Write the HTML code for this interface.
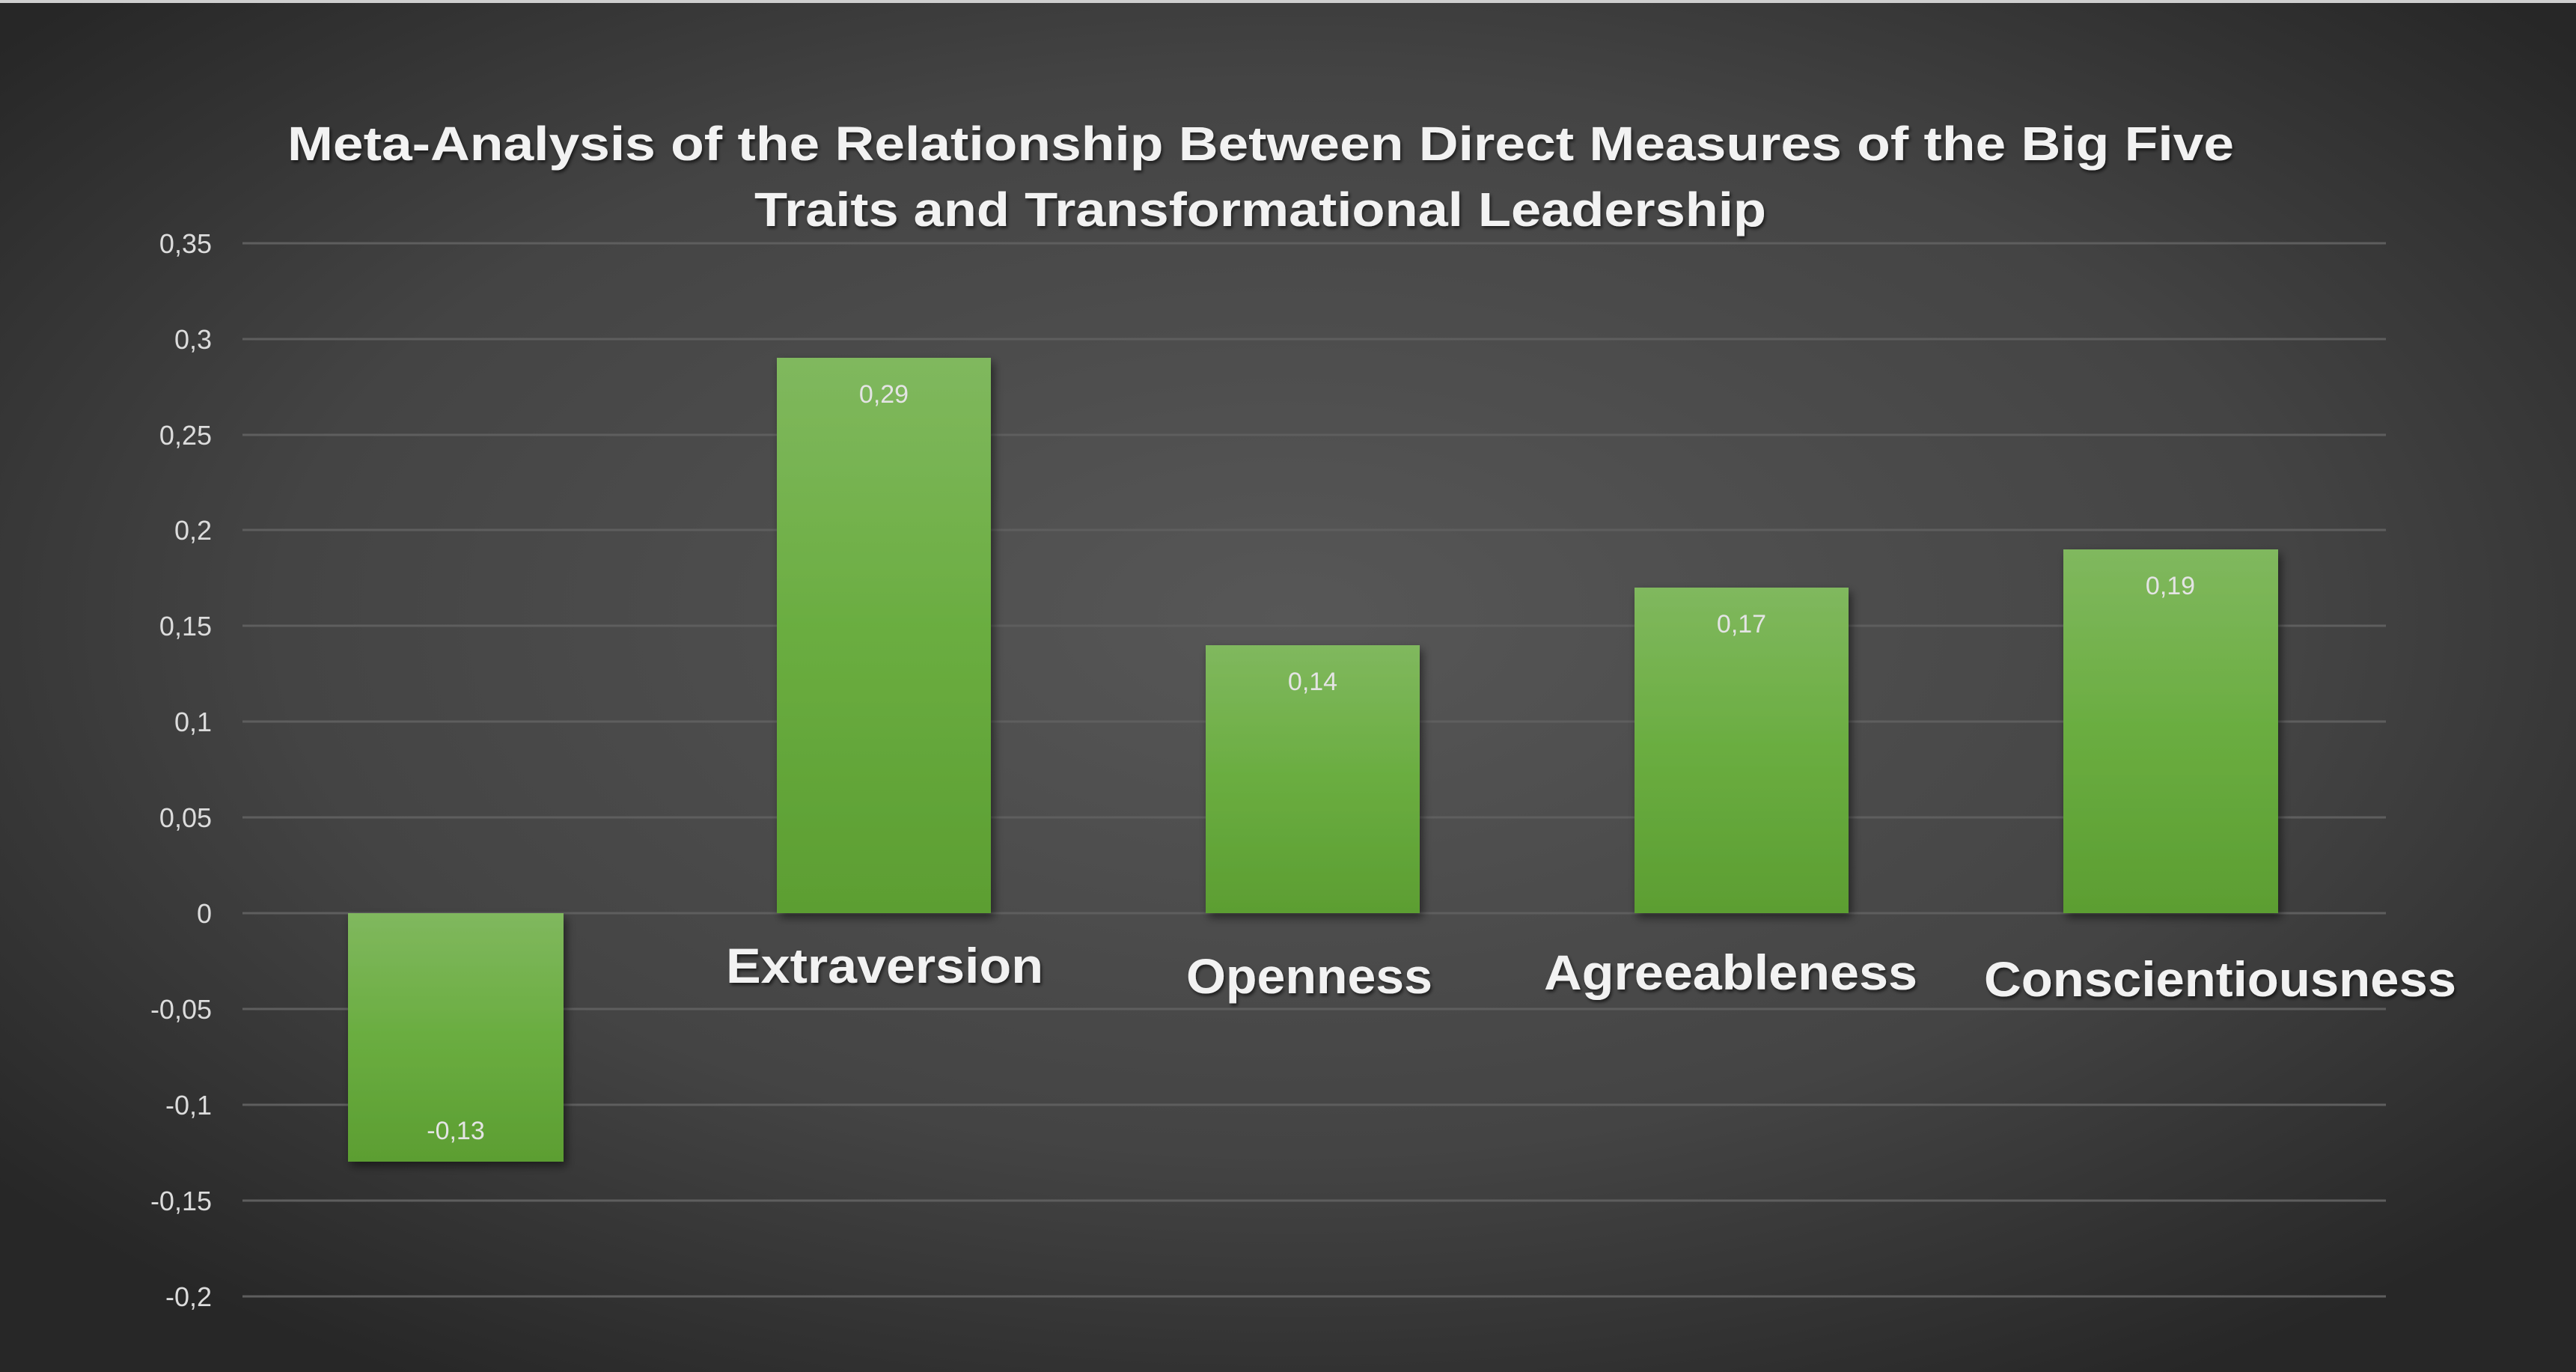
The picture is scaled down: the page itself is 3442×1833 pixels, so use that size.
<!DOCTYPE html>
<html><head><meta charset="utf-8"><style>
html,body{margin:0;padding:0;background:#2a2a2a}
svg{display:block}
</style></head><body>
<svg width="3442" height="1833" viewBox="0 0 3442 1833" xmlns="http://www.w3.org/2000/svg">
<defs>
<radialGradient id="bg" cx="50%" cy="45%" r="65%">
<stop offset="0" stop-color="#575757"/><stop offset="0.6" stop-color="#444"/><stop offset="1" stop-color="#272727"/>
</radialGradient>
<linearGradient id="bar" x1="0" y1="0" x2="0" y2="1">
<stop offset="0" stop-color="#80b85e"/><stop offset="0.5" stop-color="#6aad40"/><stop offset="1" stop-color="#5c9e32"/>
</linearGradient>
<filter id="sh" x="-10%" y="-10%" width="130%" height="130%"><feDropShadow dx="4" dy="6" stdDeviation="6" flood-color="#000" flood-opacity="0.5"/></filter>
<filter id="tsh"><feDropShadow dx="2" dy="3" stdDeviation="2" flood-color="#000" flood-opacity="0.6"/></filter>
</defs>
<rect width="3442" height="1833" fill="url(#bg)"/>
<rect x="0" y="0" width="3442" height="4" fill="#cfcfcf"/>
<g stroke="#5e5e5e" stroke-width="3">
<line x1="324" x2="3188" y1="325" y2="325"/><line x1="324" x2="3188" y1="453" y2="453"/>
<line x1="324" x2="3188" y1="581" y2="581"/><line x1="324" x2="3188" y1="708" y2="708"/>
<line x1="324" x2="3188" y1="836" y2="836"/><line x1="324" x2="3188" y1="964" y2="964"/>
<line x1="324" x2="3188" y1="1092" y2="1092"/><line x1="324" x2="3188" y1="1220" y2="1220"/>
<line x1="324" x2="3188" y1="1348" y2="1348"/><line x1="324" x2="3188" y1="1476" y2="1476"/>
<line x1="324" x2="3188" y1="1604" y2="1604"/><line x1="324" x2="3188" y1="1732" y2="1732"/>
</g>
<g font-family="Liberation Sans, sans-serif" font-size="36" fill="#dcdcdc" text-anchor="end">
<text x="283" y="338">0,35</text><text x="283" y="466">0,3</text><text x="283" y="594">0,25</text>
<text x="283" y="721">0,2</text><text x="283" y="849">0,15</text><text x="283" y="977">0,1</text>
<text x="283" y="1105">0,05</text><text x="283" y="1233">0</text><text x="283" y="1361">-0,05</text>
<text x="283" y="1489">-0,1</text><text x="283" y="1617">-0,15</text><text x="283" y="1745">-0,2</text>
</g>
<g fill="url(#bar)" filter="url(#sh)">
<rect x="465" y="1220" width="288" height="332"/>
<rect x="1038" y="478" width="286" height="742"/>
<rect x="1611" y="862" width="286" height="358"/>
<rect x="2184" y="785" width="286" height="435"/>
<rect x="2757" y="734" width="287" height="486"/>
</g>
<g font-family="Liberation Sans, sans-serif" font-size="34" fill="#e4e4e4" text-anchor="middle">
<text x="609" y="1522">-0,13</text><text x="1181" y="538">0,29</text><text x="1754" y="922">0,14</text>
<text x="2327" y="845">0,17</text><text x="2900" y="794">0,19</text>
</g>
<g font-family="Liberation Sans, sans-serif" font-weight="bold" fill="#f2f2f2" filter="url(#tsh)">
<text x="384" y="214" font-size="64" textLength="2601" lengthAdjust="spacingAndGlyphs">Meta-Analysis of the Relationship Between Direct Measures of the Big Five</text>
<text x="1008" y="302" font-size="64" textLength="1352" lengthAdjust="spacingAndGlyphs">Traits and Transformational Leadership</text>
<text x="970" y="1313" font-size="66" textLength="424" lengthAdjust="spacingAndGlyphs">Extraversion</text>
<text x="1585" y="1327" font-size="66" textLength="329" lengthAdjust="spacingAndGlyphs">Openness</text>
<text x="2063" y="1322" font-size="66" textLength="499" lengthAdjust="spacingAndGlyphs">Agreeableness</text>
<text x="2651" y="1331" font-size="66" textLength="631" lengthAdjust="spacingAndGlyphs">Conscientiousness</text>
</g>
</svg>
</body></html>
